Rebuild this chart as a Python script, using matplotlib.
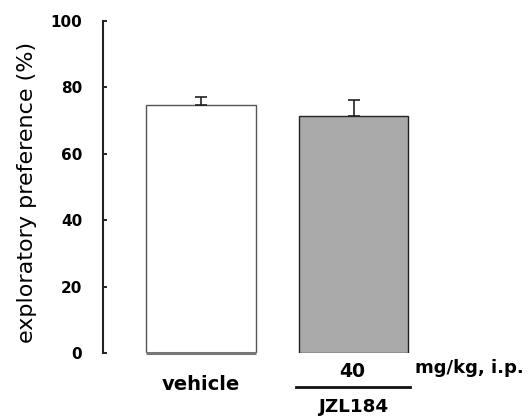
import matplotlib
matplotlib.use("Agg")
import matplotlib.pyplot as plt
import matplotlib.transforms as mtransforms

# data
groups = ["vehicle", "JZL184"]
doses = ["", "40"]
means = [74.8, 71.5]
sems = [2.3, 4.7]
bar_colors = ["white", "#aaaaaa"]
yticks = [0, 20, 40, 60, 80, 100]

plt.rcParams["font.family"] = ["DejaVu Sans"]

fig = plt.figure(figsize=(5.28, 4.16), dpi=100)
ax = fig.add_axes([103 / 528, 63 / 416, 357 / 528, 332 / 416])

xpos = [0, 1]
width = 0.72
ax.bar(xpos, means, width=width, color=bar_colors, edgecolor=["#555555", "#222222"],
       linewidth=1.0, zorder=2)
ax.errorbar(xpos, means, yerr=[[0, 0], sems], fmt="none", ecolor="#222222",
            elinewidth=1.2, capsize=4, capthick=1.2, zorder=3)
# thick base line under the vehicle bar
ax.plot([xpos[0] - width / 2, xpos[0] + width / 2], [0, 0], color="#777777", lw=2.2,
        solid_capstyle="butt", zorder=4, clip_on=False)

ax.set_xlim(-0.643, 1.698)
ax.set_ylim(0, 100)
ax.set_yticks(yticks)
ax.set_yticklabels([str(t) for t in yticks], fontsize=11, fontweight="bold")
ax.tick_params(axis="y", direction="in", length=3, width=1.2, pad=15)
ax.set_xticks([])

for s in ["top", "right", "bottom"]:
    ax.spines[s].set_visible(False)
ax.spines["left"].set_linewidth(1.5)
ax.spines["left"].set_color("#222222")

fig.text(27 / 528, 1 - 0.5 * (42 + 343) / 416, "exploratory preference (%)", rotation=90,
         ha="center", va="center", fontsize=16)

trans = mtransforms.blended_transform_factory(ax.transData, ax.transAxes)
ax.text(xpos[0], -0.111, groups[0], transform=trans, ha="center", va="baseline",
        fontsize=14, fontweight="bold")
ax.text(xpos[1] - 0.01, -0.0723, doses[1], transform=trans, ha="center", va="baseline",
        fontsize=13.5, fontweight="bold")
ax.plot([xpos[1] - width / 2 - 0.015, xpos[1] + width / 2 + 0.01], [-0.102, -0.102],
        transform=trans, color="#111111", lw=2, clip_on=False)
ax.text(xpos[1], -0.1777, groups[1], transform=trans, ha="center", va="baseline",
        fontsize=13.2, fontweight="bold")
ax.text(1.403, -0.0602, "mg/kg, i.p.", transform=trans, ha="left", va="baseline",
        fontsize=13, fontweight="bold")

fig.savefig("out.png", dpi=100)
